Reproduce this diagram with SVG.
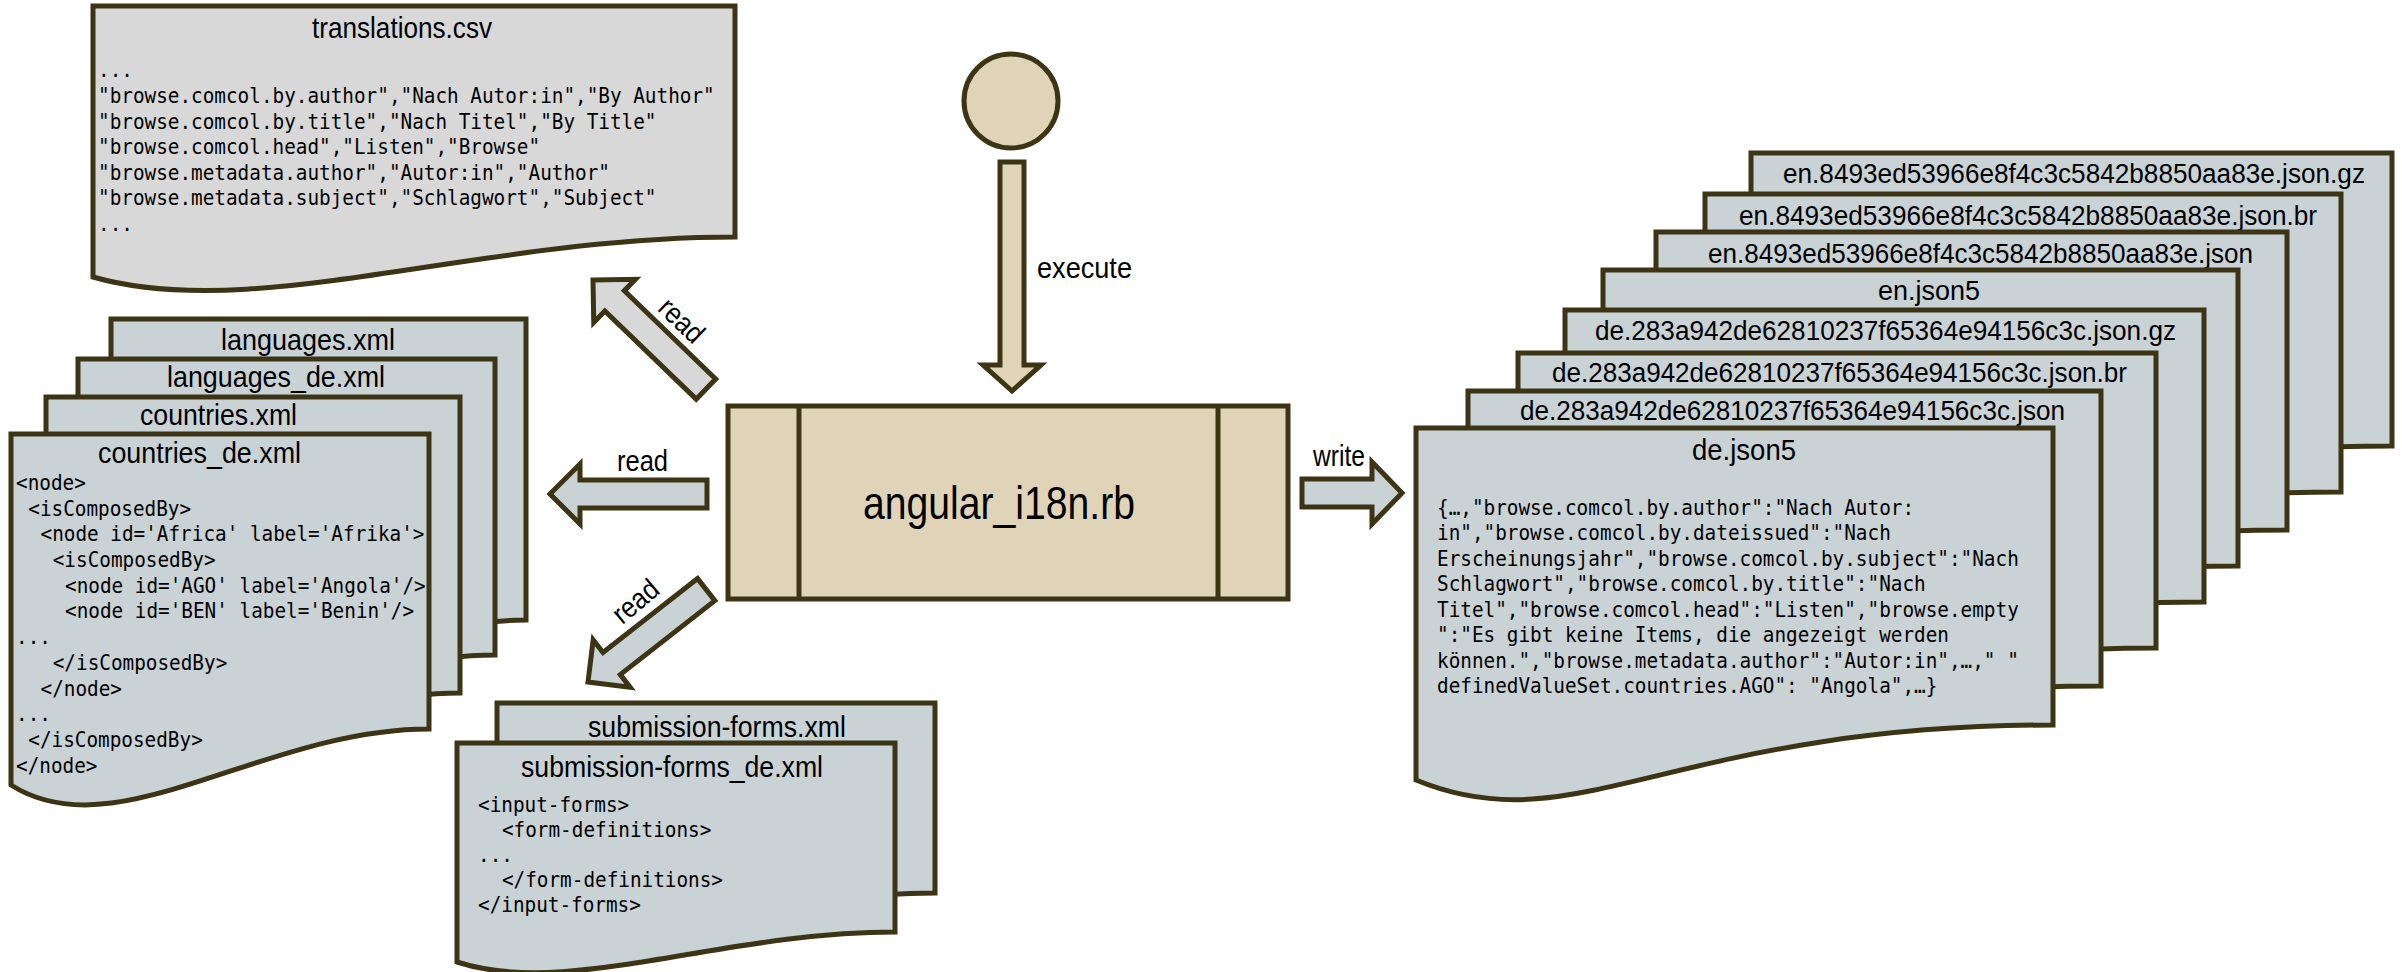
<svg xmlns="http://www.w3.org/2000/svg" width="2402" height="972" viewBox="0 0 2402 972">
<style>
.s{stroke:#3d3415;stroke-width:5;stroke-linejoin:miter}
.blue{fill:#c9d2d5}
.gray{fill:#d8d8d8}
.beige{fill:#e0d4b8}
.t{font-family:"Liberation Sans",Arial,sans-serif;font-size:29px;fill:#000}
.r{font-size:27px}
.c{font-family:"DejaVu Sans Mono","Liberation Mono",monospace;font-size:21px;fill:#000}
</style>
<defs>
<path id="arrL" d="M0,0 L30,-30 V-14 H157 V14 H30 V30 Z"/>
<path id="arrL2" d="M0,0 L30,-30 V-14 H150 V14 H30 V30 Z"/>
</defs>
<rect width="2402" height="972" fill="#fff"/>

<g id="translations">
<path class="s gray" d="M93,6 H735 V237 C478,237 254,323 93,277 Z"/>
<text class="t" x="312" y="38" textLength="180" lengthAdjust="spacingAndGlyphs">translations.csv</text>
<g transform="translate(98,0) scale(0.921,1)">
<text class="c" x="0" y="77">...</text>
<text class="c" x="0" y="103">"browse.comcol.by.author","Nach Autor:in","By Author"</text>
<text class="c" x="0" y="129">"browse.comcol.by.title","Nach Titel","By Title"</text>
<text class="c" x="0" y="154">"browse.comcol.head","Listen","Browse"</text>
<text class="c" x="0" y="180">"browse.metadata.author","Autor:in","Author"</text>
<text class="c" x="0" y="205">"browse.metadata.subject","Schlagwort","Subject"</text>
<text class="c" x="0" y="231">...</text>
</g>
</g>

<g id="languages">
<path class="s blue" d="M111,319 H526 V620 C360,620 215,742 111,675 Z"/>
<text class="t" x="221" y="350" textLength="174" lengthAdjust="spacingAndGlyphs">languages.xml</text>
</g>
<g id="languages_de">
<path class="s blue" d="M78,359 H495 V655 C328,655 182,775 78,710 Z"/>
<text class="t" x="167" y="387" textLength="218" lengthAdjust="spacingAndGlyphs">languages_de.xml</text>
</g>
<g id="countries">
<path class="s blue" d="M46,397 H460 V693 C294,693 150,813 46,748 Z"/>
<text class="t" x="140" y="425" textLength="157" lengthAdjust="spacingAndGlyphs">countries.xml</text>
</g>
<g id="countries_de">
<path class="s blue" d="M11,434 H429 V729 C262,729 116,852 11,785 Z"/>
<text class="t" x="98" y="463" textLength="203" lengthAdjust="spacingAndGlyphs">countries_de.xml</text>
<g transform="translate(16,0) scale(0.921,1)">
<text class="c" x="0" y="490">&lt;node&gt;</text>
<text class="c" x="13.3" y="515.7">&lt;isComposedBy&gt;</text>
<text class="c" x="26.6" y="541.4">&lt;node id='Africa' label='Afrika'&gt;</text>
<text class="c" x="39.9" y="567.1">&lt;isComposedBy&gt;</text>
<text class="c" x="53.2" y="592.8">&lt;node id='AGO' label='Angola'/&gt;</text>
<text class="c" x="53.2" y="618.5">&lt;node id='BEN' label='Benin'/&gt;</text>
<text class="c" x="0" y="644.2">...</text>
<text class="c" x="39.9" y="669.9">&lt;/isComposedBy&gt;</text>
<text class="c" x="26.6" y="695.6">&lt;/node&gt;</text>
<text class="c" x="0" y="721.3">...</text>
<text class="c" x="13.3" y="747">&lt;/isComposedBy&gt;</text>
<text class="c" x="0" y="772.7">&lt;/node&gt;</text>
</g>
</g>

<g id="submission-forms">
<path class="s blue" d="M497,703 H935 V893 C760,893 607,959 497,923 Z"/>
<text class="t" x="588" y="737" textLength="258" lengthAdjust="spacingAndGlyphs">submission-forms.xml</text>
</g>
<g id="submission-forms_de">
<path class="s blue" d="M457,743 H895 V932 C720,932 567,998 457,962 Z"/>
<text class="t" x="521" y="777" textLength="302" lengthAdjust="spacingAndGlyphs">submission-forms_de.xml</text>
<g transform="translate(478,0) scale(0.921,1)">
<text class="c" x="0" y="812">&lt;input-forms&gt;</text>
<text class="c" x="26" y="837">&lt;form-definitions&gt;</text>
<text class="c" x="0" y="862">...</text>
<text class="c" x="26" y="887">&lt;/form-definitions&gt;</text>
<text class="c" x="0" y="912">&lt;/input-forms&gt;</text>
</g>
</g>

<g id="start">
<circle class="s beige" cx="1011" cy="101" r="47"/>
</g>

<g id="angular_i18n">
<rect class="s beige" x="728" y="406" width="560" height="193"/>
<line class="s" x1="799" y1="406" x2="799" y2="599"/>
<line class="s" x1="1218" y1="406" x2="1218" y2="599"/>
<text class="t" x="863" y="519" style="font-size:46px" textLength="272" lengthAdjust="spacingAndGlyphs">angular_i18n.rb</text>
</g>

<g id="outputs">
<g id="en-gz">
<path class="s blue" d="M1751,153 H2392 V446 C2007,446 1911,566 1751,500 Z"/>
<text class="t r" x="1783" y="183" textLength="582" lengthAdjust="spacingAndGlyphs">en.8493ed53966e8f4c3c5842b8850aa83e.json.gz</text>
</g>
<g id="en-br">
<path class="s blue" d="M1705,194 H2341 V492 C1959,492 1864,612 1705,546 Z"/>
<text class="t r" x="1739" y="225" textLength="578" lengthAdjust="spacingAndGlyphs">en.8493ed53966e8f4c3c5842b8850aa83e.json.br</text>
</g>
<g id="en-json">
<path class="s blue" d="M1656,232 H2287 V530 C1908,530 1814,650 1656,584 Z"/>
<text class="t r" x="1708" y="263" textLength="545" lengthAdjust="spacingAndGlyphs">en.8493ed53966e8f4c3c5842b8850aa83e.json</text>
</g>
<g id="en-json5">
<path class="s blue" d="M1603,270 H2238 V566 C1857,566 1762,686 1603,620 Z"/>
<text class="t r" x="1878" y="300" textLength="102" lengthAdjust="spacingAndGlyphs">en.json5</text>
</g>
<g id="de-gz">
<path class="s blue" d="M1565,310 H2204 V602 C1822,602 1725,722 1565,656 Z"/>
<text class="t r" x="1595" y="340" textLength="581" lengthAdjust="spacingAndGlyphs">de.283a942de62810237f65364e94156c3c.json.gz</text>
</g>
<g id="de-br">
<path class="s blue" d="M1518,353 H2156 V648 C1775,648 1678,768 1518,702 Z"/>
<text class="t r" x="1552" y="382" textLength="575" lengthAdjust="spacingAndGlyphs">de.283a942de62810237f65364e94156c3c.json.br</text>
</g>
<g id="de-json">
<path class="s blue" d="M1468,391 H2101 V686 C1721,686 1626,806 1468,740 Z"/>
<text class="t r" x="1520" y="420" textLength="545" lengthAdjust="spacingAndGlyphs">de.283a942de62810237f65364e94156c3c.json</text>
</g>
<g id="de-json5">
<path class="s blue" d="M1416,428 H2053 V725 C1671,725 1575,846 1416,780 Z"/>
<text class="t" x="1692" y="460" textLength="104" lengthAdjust="spacingAndGlyphs">de.json5</text>
<g transform="translate(1437,0) scale(0.921,1)">
<text class="c" x="0" y="515">{…,"browse.comcol.by.author":"Nach Autor:</text>
<text class="c" x="0" y="540.5">in","browse.comcol.by.dateissued":"Nach</text>
<text class="c" x="0" y="566">Erscheinungsjahr","browse.comcol.by.subject":"Nach</text>
<text class="c" x="0" y="591.5">Schlagwort","browse.comcol.by.title":"Nach</text>
<text class="c" x="0" y="617">Titel","browse.comcol.head":"Listen","browse.empty</text>
<text class="c" x="0" y="642.5">":"Es gibt keine Items, die angezeigt werden</text>
<text class="c" x="0" y="668">können.","browse.metadata.author":"Autor:in",…," "</text>
<text class="c" x="0" y="693.5">definedValueSet.countries.AGO": "Angola",…}</text>
</g>
</g>
</g>

<g id="connectors">
<path class="s beige" d="M1000,162 H1024 V365 H1041 L1012,391 L983,365 H1000 Z"/>
<text class="t" x="1037" y="278" textLength="95" lengthAdjust="spacingAndGlyphs">execute</text>

<use href="#arrL" class="s gray" transform="translate(593,280) rotate(44)"/>
<g transform="translate(681,321) rotate(44)"><text class="t" x="-25.5" y="9" textLength="51" lengthAdjust="spacingAndGlyphs">read</text></g>

<use href="#arrL" class="s blue" transform="translate(550,494)"/>
<text class="t" x="617" y="471" textLength="51" lengthAdjust="spacingAndGlyphs">read</text>

<use href="#arrL2" class="s blue" transform="translate(588,682) rotate(-38)"/>
<g transform="translate(636,602) rotate(-40)"><text class="t" x="-25.5" y="9" textLength="51" lengthAdjust="spacingAndGlyphs">read</text></g>

<path class="s blue" d="M1402,493 L1372,462 V479 H1302 V507 H1372 V524 Z"/>
<text class="t" x="1313" y="466" textLength="52" lengthAdjust="spacingAndGlyphs">write</text>
</g>
</svg>
